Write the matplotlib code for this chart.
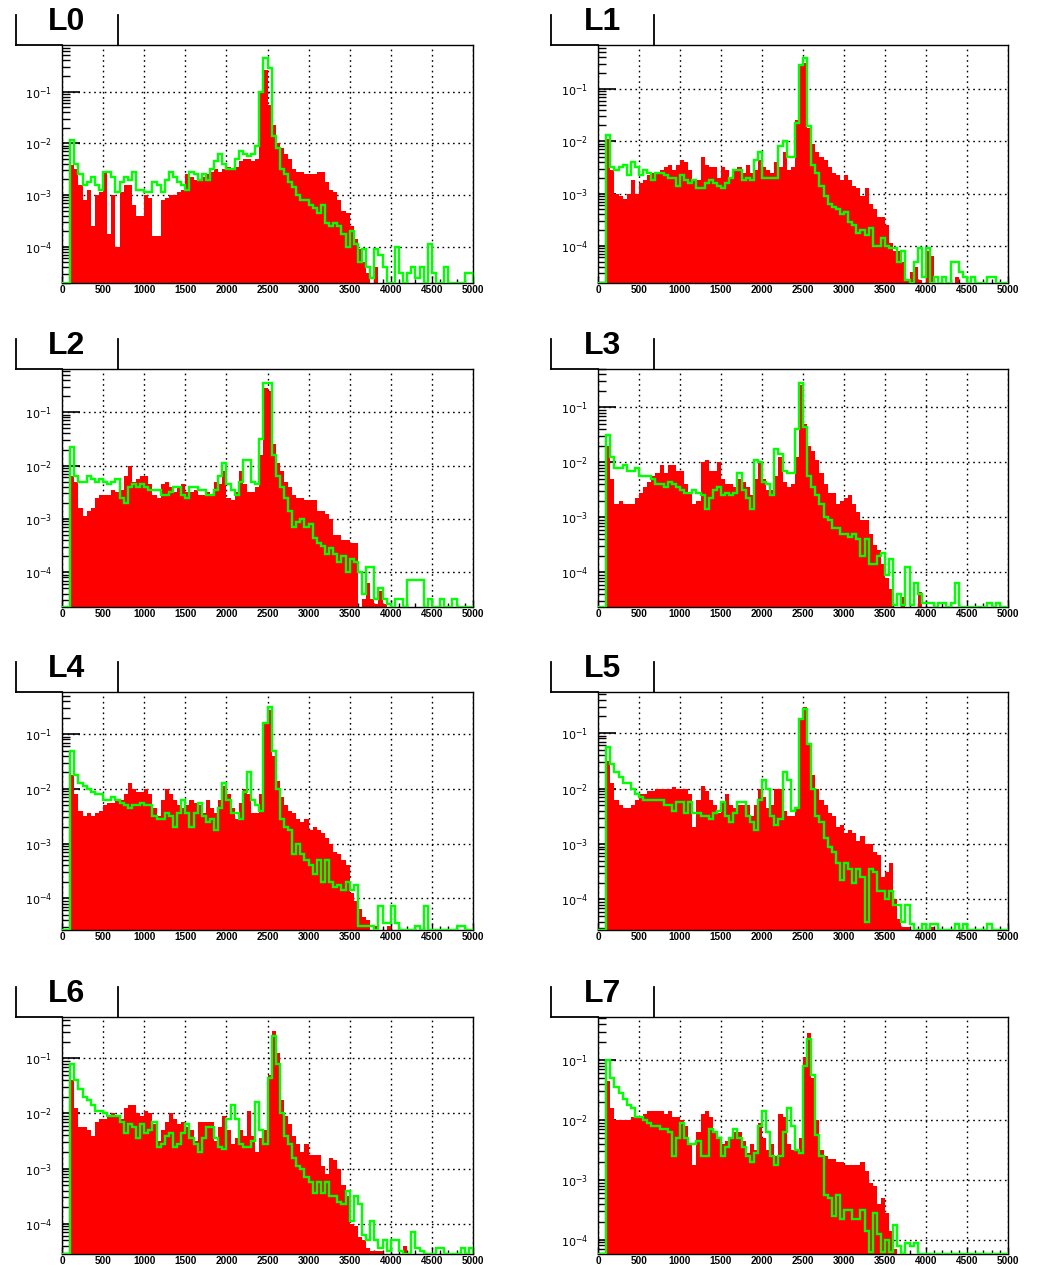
import numpy as np
import matplotlib
matplotlib.use("Agg")
import matplotlib.pyplot as plt
from matplotlib.ticker import FixedLocator, MultipleLocator, NullFormatter, LogLocator
from matplotlib.lines import Line2D

# ---------------- data (log10 of bin content, None = empty bin); bins of width 50 from 0 to 5000
bin_edges = np.arange(0, 5001, 50)
panel_names = ["L0", "L1", "L2", "L3", "L4", "L5", "L6", "L7"]
x_ticks = [0, 500, 1000, 1500, 2000, 2500, 3000, 3500, 4000, 4500, 5000]
y_decades = [-4, -3, -2, -1]

L0_red = [None, None, -2.42, -2.5, -2.8, -3.1, -2.9, -3.6, -3.0, -2.95,
          -2.55, -3.75, -3.0, -4.0, -2.95, -2.8, -2.8, -3.2, -3.4, -3.4,
          -3.0, -3.05, -3.8, -3.8, -3.1, -3.05, -3.0, -3.0, -2.95, -2.9,
          -2.6, -2.65, -2.7, -2.7, -2.65, -2.6, -2.55, -2.5, -2.55, -2.5,
          -2.45, -2.5, -2.45, -2.35, -2.3, -2.3, -2.35, -2.3, -1.0, -0.58,
          -1.25, -1.65, -2.0, -2.1, -2.2, -2.3, -2.5, -2.55, -2.55, -2.6,
          -2.6, -2.6, -2.55, -2.55, -2.75, -2.9, -2.95, -3.1, -3.3, -3.35,
          -3.6, -3.85, -4.05, -4.3, -4.5, None, -4.4]
L0_green = [None, None, -1.94, -2.4, -2.6, -2.8, -2.75, -2.65, -2.8, -2.9,
            -2.55, -2.55, -2.65, -2.95, -2.75, -2.65, -2.7, -2.55, -2.9, -2.9,
            -2.95, -2.95, -2.75, -2.8, -2.95, -2.7, -2.55, -2.65, -2.75, -2.8,
            -2.9, -2.55, -2.6, -2.7, -2.6, -2.7, -2.5, -2.35, -2.2, -2.4,
            -2.5, -2.5, -2.3, -2.15, -2.2, -2.25, -2.2, -2.05, -1.0, -0.35,
            -0.55, -1.85, -2.1, -2.5, -2.6, -2.75, -2.85, -3.0, -3.1, -3.1,
            -3.2, -3.25, -3.35, -3.2, -3.55, -3.6, -3.55, -3.6, -3.75, -4.0,
            -3.7, -3.95, -4.3, -4.05, -4.4, -4.6, -4.05, -4.15, -4.4, None,
            None, -4.0, -4.5, None, -4.5, -4.4, -4.6, -4.4, None, -3.95,
            -4.5, None, None, -4.4, None, None, None, None, -4.5, -4.5]

L1_red = [None, None, -1.95, -2.55, -3.0, -3.05, -3.1, -3.0, -2.75, -3.0,
          -2.8, -2.75, -2.65, -2.6, -2.6, -2.55, -2.5, -2.45, -2.55, -2.45,
          -2.35, -2.4, -2.55, -2.75, -2.75, -2.3, -2.45, -2.5, -2.5, -2.7,
          -2.5, -2.55, -2.7, -2.55, -2.5, -2.6, -2.45, -2.6, -2.55, -2.35,
          -2.5, -2.55, -2.6, -2.4, -2.5, -2.2, -2.55, -2.5, -1.6, -0.55,
          -0.5, -1.75, -2.05, -2.2, -2.3, -2.35, -2.5, -2.6, -2.65, -2.75,
          -2.65, -2.75, -2.85, -2.9, -3.05, -2.9, -3.2, -3.3, -3.45, -3.45,
          -3.6, -3.95, -4.1, -4.1, -4.3, -4.65, -4.5, -4.4, -4.65, None,
          -4.1, -4.2, None, None, None, None, None, -4.6]
L1_green = [None, None, -1.88, -2.5, -2.55, -2.5, -2.45, -2.65, -2.4, -2.5,
            -2.65, -2.55, -2.6, -2.75, -2.6, -2.6, -2.65, -2.7, -2.7, -2.85,
            -2.65, -2.75, -2.8, -2.75, -2.9, -2.9, -2.8, -2.75, -2.8, -2.85,
            -2.9, -2.8, -2.7, -2.55, -2.55, -2.75, -2.7, -2.75, -2.35, -2.2,
            -2.7, -2.7, -2.7, -2.7, -2.1, -2.0, -2.3, -2.3, -1.65, -0.55,
            -0.4, -1.7, -2.45, -2.6, -2.85, -3.05, -3.2, -3.25, -3.3, -3.4,
            -3.35, -3.55, -3.6, -3.75, -3.7, -3.8, -3.65, -4.0, -4.0, -3.85,
            -4.0, -4.05, -4.05, -4.3, -4.1, -4.65, None, -4.3, -4.05, -4.6,
            -4.05, None, -4.6, None, -4.6, None, -4.3, -4.3, -4.5, -4.6,
            None, -4.6, None, None, None, -4.6, -4.6]

L2_red = [None, None, -2.2, -2.3, -2.8, -2.95, -2.85, -2.8, -2.6, -2.55,
          -2.55, -2.55, -2.45, -2.5, -2.45, -2.2, -2.0, -2.3, -2.25, -2.2,
          -2.2, -2.35, -2.55, -2.6, -2.35, -2.3, -2.4, -2.5, -2.4, -2.35,
          -2.5, -2.5, -2.45, -2.55, -2.55, -2.5, -2.55, -2.3, -2.35, -2.1,
          -2.6, -2.65, -2.5, -2.1, -2.35, -2.5, -2.5, -2.4, -1.8, -0.55,
          -0.6, -1.6, -1.95, -2.1, -2.3, -2.4, -2.55, -2.6, -2.6, -2.65,
          -2.65, -2.65, -2.85, -2.85, -2.9, -3.0, -3.3, -3.3, -3.4, -3.4,
          -3.45, -3.45, None, -4.5, -4.2, -4.5, -4.6, -4.35, -4.6]
L2_green = [None, None, -1.65, -2.2, -2.3, -2.3, -2.2, -2.25, -2.3, -2.25,
            -2.3, -2.35, -2.3, -2.25, -2.6, -2.7, -2.4, -2.35, -2.4, -2.35,
            -2.4, -2.45, -2.45, -2.45, -2.55, -2.55, -2.5, -2.4, -2.4, -2.55,
            -2.6, -2.4, -2.4, -2.45, -2.45, -2.55, -2.55, -2.45, -2.2, -1.95,
            -2.35, -2.45, -2.55, -2.3, -1.9, -1.9, -2.3, -2.35, -1.5, -0.45,
            -0.45, -1.8, -2.2, -2.4, -2.6, -2.85, -3.15, -3.05, -3.0, -3.15,
            -3.1, -3.35, -3.45, -3.5, -3.65, -3.55, -3.65, -3.8, -3.7, -4.0,
            -3.75, -3.8, -4.0, -4.4, -3.9, -3.9, -4.5, -4.3, -4.5, -4.6,
            None, -4.5, -4.5, -4.65, -4.15, -4.15, -4.15, -4.15, None, -4.5,
            None, None, -4.5, None, None, -4.5]

L3_red = [None, None, -1.7, -2.3, -2.75, -2.7, -2.75, -2.75, -2.75, -2.65,
          -2.55, -2.45, -2.35, -2.25, -2.2, -2.05, -2.2, -2.05, -2.05, -2.15,
          -2.15, -2.4, -2.55, -2.75, -2.7, -2.0, -1.95, -2.15, -2.15, -2.0,
          -2.3, -2.4, -2.4, -2.45, -2.3, -2.35, -2.45, -2.6, -2.3, -2.0,
          -2.3, -2.5, -2.5, -2.25, -1.9, -2.35, -2.45, -2.4, -1.9, -0.6,
          -1.3, -1.7, -1.8, -1.95, -2.2, -2.4, -2.55, -2.55, -2.75, -2.7,
          -2.65, -2.6, -2.75, -2.9, -3.05, -3.05, -3.3, -3.5, -3.6, -3.85,
          -4.1, -4.3, None, None, -4.45, None, None, None, -4.35]
L3_green = [None, None, -1.5, -1.9, -2.1, -2.1, -2.05, -2.15, -2.15, -2.1,
            -2.25, -2.25, -2.25, -2.3, -2.4, -2.4, -2.45, -2.35, -2.4, -2.45,
            -2.5, -2.55, -2.55, -2.5, -2.55, -2.6, -2.85, -2.65, -2.5, -2.45,
            -2.6, -2.55, -2.6, -2.55, -2.2, -2.5, -2.65, -2.85, -1.95, -2.0,
            -2.35, -2.4, -2.6, -1.75, -1.85, -2.15, -2.2, -2.2, -1.4, -0.55,
            -1.35, -2.25, -2.45, -2.6, -2.75, -3.0, -3.05, -3.2, -3.2, -3.3,
            -3.3, -3.35, -3.3, -3.4, -3.7, -3.4, -3.85, -3.85, -3.7, -3.65,
            -4.05, -3.75, -4.6, -4.4, -4.6, -3.9, -4.6, -4.2, -4.4, -4.55,
            -4.55, -4.55, None, -4.55, -4.55, None, -4.55, -4.2, None, None,
            None, None, None, None, None, -4.55, None, -4.55]

L4_red = [None, None, -1.75, -2.1, -2.4, -2.5, -2.45, -2.5, -2.45, -2.4,
          -2.3, -2.25, -2.25, -2.2, -2.2, -2.1, -1.9, -2.0, -2.05, -2.05,
          -2.0, -2.1, -2.35, -2.5, -2.2, -2.0, -2.1, -2.2, -2.3, -2.35,
          -2.3, -2.2, -2.25, -2.3, -2.45, -2.2, -2.35, -2.45, -2.2, -1.95,
          -2.1, -2.35, -2.55, -2.25, -2.0, -2.1, -2.45, -2.45, -2.1, -0.8,
          -0.55, -1.4, -1.85, -2.15, -2.3, -2.4, -2.45, -2.55, -2.6, -2.55,
          -2.75, -2.7, -2.75, -2.8, -2.9, -3.0, -3.15, -3.2, -3.3, -3.4,
          -3.9, -4.05, -4.2, -4.35, -4.4, None, -4.5, None, None, -4.5]
L4_green = [None, None, -1.3, -1.75, -1.9, -1.95, -2.0, -2.05, -2.1, -2.1,
            -2.2, -2.2, -2.15, -2.2, -2.25, -2.3, -2.35, -2.3, -2.3, -2.25,
            -2.3, -2.3, -2.5, -2.55, -2.55, -2.45, -2.5, -2.7, -2.45, -2.2,
            -2.45, -2.7, -2.45, -2.25, -2.5, -2.6, -2.55, -2.75, -2.35, -1.9,
            -2.2, -2.45, -2.45, -2.55, -2.05, -1.7, -2.2, -2.3, -2.4, -0.8,
            -0.5, -1.3, -2.0, -2.55, -2.7, -2.75, -3.2, -3.0, -3.2, -3.3,
            -3.4, -3.55, -3.3, -3.7, -3.3, -3.7, -3.8, -3.75, -3.85, -3.7,
            -3.85, -3.75, -4.5, -4.5, -4.5, -4.5, None, -4.15, -4.45, -4.45,
            -4.15, -4.45, None, None, None, None, -4.5, None, -4.15, None,
            None, None, None, None, None, None, -4.5, -4.5]

L5_red = [None, None, -1.5, -1.9, -2.2, -2.3, -2.35, -2.35, -2.3, -2.2,
          -2.1, -2.1, -2.05, -2.05, -2.0, -2.0, -2.0, -2.0, -1.98, -2.0,
          -2.0, -2.0, -2.1, -2.7, -2.2, -1.95, -2.05, -2.2, -2.3, -2.45,
          -2.25, -2.1, -2.3, -2.35, -2.3, -2.3, -2.3, -2.5, -2.3, -2.0,
          -2.15, -2.35, -2.3, -2.0, -2.0, -2.4, -2.5, -2.5, -2.35, -0.75,
          -0.53, -1.2, -1.75, -2.0, -2.2, -2.3, -2.45, -2.5, -2.7, -2.65,
          -2.8, -2.75, -2.8, -2.95, -2.85, -3.0, -3.0, -3.15, -3.2, -3.6,
          -3.5, -3.35, -4.0, -4.35, -4.5, -4.5, None, None, None, None,
          None, -4.5]
L5_green = [None, None, -1.25, -1.55, -1.7, -1.8, -1.9, -1.9, -2.0, -2.1,
            -2.15, -2.2, -2.2, -2.2, -2.2, -2.2, -2.3, -2.3, -2.4, -2.25,
            -2.25, -2.45, -2.25, -2.45, -2.45, -2.5, -2.5, -2.55, -2.45, -2.4,
            -2.25, -2.5, -2.6, -2.45, -2.25, -2.25, -2.5, -2.6, -2.75, -2.2,
            -1.85, -2.0, -2.5, -2.65, -2.55, -1.7, -1.85, -2.4, -2.35, -0.75,
            -0.56, -1.2, -2.0, -2.5, -2.6, -2.9, -3.05, -3.15, -3.35, -3.65,
            -3.35, -3.45, -3.7, -3.45, -3.6, -4.4, -3.45, -3.5, -3.85, -3.85,
            -4.0, -3.85, -4.1, -4.1, -4.4, -4.1, -4.45, None, None, -4.45,
            None, -4.45, -4.45, None, None, None, None, -4.45, None, -4.45,
            None, None, None, None, None, -4.45]

L6_red = [None, None, -1.4, -1.9, -2.25, -2.25, -2.3, -2.4, -2.15, -2.1,
          -2.1, -2.05, -2.0, -2.05, -2.1, -1.9, -1.85, -1.85, -2.0, -2.05,
          -1.95, -2.0, -2.2, -2.5, -2.3, -2.15, -2.0, -2.1, -2.2, -2.15,
          -2.25, -2.3, -2.5, -2.15, -2.15, -2.15, -2.15, -2.5, -2.25, -2.05,
          -2.3, -2.55, -2.45, -2.3, -2.4, -1.95, -2.4, -2.7, -2.45, -2.3,
          -1.3, -0.5, -0.9, -1.75, -2.05, -2.2, -2.4, -2.55, -2.7, -2.55,
          -2.75, -2.75, -2.75, -2.95, -3.1, -2.8, -2.85, -3.0, -3.3, -3.5,
          -4.0, -4.05, -4.25, -4.3, -4.45, -4.5, -4.5, -4.5, None, None,
          None, None, None, -4.4]
L6_green = [None, None, -1.1, -1.4, -1.55, -1.7, -1.75, -1.85, -1.95, -1.95,
            -2.0, -2.05, -2.05, -2.05, -2.15, -2.35, -2.2, -2.25, -2.45, -2.2,
            -2.35, -2.3, -2.15, -2.6, -2.55, -2.4, -2.35, -2.6, -2.55, -2.35,
            -2.2, -2.45, -2.55, -2.7, -2.45, -2.25, -2.25, -2.45, -2.6, -2.65,
            -2.1, -1.85, -2.1, -2.55, -2.6, -2.6, -2.5, -1.8, -2.3, -2.55,
            -1.35, -0.6, -1.1, -2.0, -2.4, -2.55, -2.8, -2.95, -3.0, -3.15,
            -3.25, -3.45, -3.25, -3.45, -3.25, -3.5, -3.5, -3.6, -3.65, -3.4,
            -3.95, -3.5, -3.65, -4.2, -4.3, -3.95, -4.3, -4.45, -4.3, -4.5,
            -4.3, -4.3, -4.5, None, None, -4.15, -4.45, -4.5, None, None,
            None, -4.45, -4.45, None, None, None, None, -4.45, None, -4.45]

L7_red = [None, None, -1.35, -1.8, -2.0, -2.0, -2.0, -2.0, -1.95, -1.95,
          -1.95, -1.9, -1.85, -1.85, -1.85, -1.85, -1.9, -1.85, -1.95, -1.95,
          -2.0, -2.1, -2.4, -2.75, -2.2, -1.9, -1.85, -1.95, -2.2, -2.3,
          -2.4, -2.35, -2.3, -2.2, -2.2, -2.35, -2.55, -2.4, -2.5, -2.05,
          -2.3, -2.5, -2.4, -2.6, -1.9, -1.95, -2.4, -2.5, -2.5, -2.3,
          -0.95, -0.55, -1.3, -2.0, -2.5, -2.6, -2.65, -2.65, -2.7, -2.7,
          -2.75, -2.75, -2.75, -2.75, -2.7, -2.85, -3.05, -3.1, -3.4, -3.3,
          -3.55, -3.85, -4.15]
L7_green = [None, None, -1.0, -1.3, -1.45, -1.55, -1.65, -1.75, -1.8, -1.95,
            -1.95, -2.0, -2.05, -2.1, -2.1, -2.15, -2.15, -2.2, -2.6, -2.3,
            -2.05, -2.3, -2.4, -2.4, -2.35, -2.6, -2.6, -2.15, -2.2, -2.3,
            -2.6, -2.45, -2.3, -2.15, -2.3, -2.45, -2.6, -2.7, -2.55, -2.1,
            -1.85, -2.2, -2.6, -2.75, -2.6, -2.2, -1.8, -2.1, -2.5, -2.55,
            -1.1, -0.65, -1.25, -2.25, -2.6, -3.25, -3.3, -3.6, -3.25, -3.65,
            -3.5, -3.5, -3.65, -3.65, -3.5, -3.85, -4.2, -3.55, -3.9, -4.2,
            -4.0, -4.2, -3.75, -4.1, None, -4.05, -4.1, -4.05]

red_series = [L0_red, L1_red, L2_red, L3_red, L4_red, L5_red, L6_red, L7_red]
green_series = [L0_green, L1_green, L2_green, L3_green, L4_green, L5_green, L6_green, L7_green]

# y-axis ranges (log10) of each pad
y_ranges = [(-4.70, -0.10), (-4.71, -0.16), (-4.65, -0.19), (-4.63, -0.30),
            (-4.58, -0.23), (-4.55, -0.26), (-4.55, -0.25), (-4.24, -0.28)]


def contents(logs):
    logs = list(logs) + [None] * (len(bin_edges) - 1 - len(logs))
    return np.array([0.0 if v is None else 10.0 ** v for v in logs])


# ---------------- layout (pixels)
W, H = 1037, 1265
fig = plt.figure(figsize=(W / 100, H / 100), dpi=100)
col_x = [(62, 473), (598, 1008)]
row_y = [(45, 283), (369, 607), (692, 930), (1017, 1254)]
box_x = [(16, 118), (551, 654)]

RED = "#ff0000"
GREEN = "#00ff00"

for k, name in enumerate(panel_names):
    r, c = divmod(k, 2)
    x0, x1 = col_x[c]
    y0, y1 = row_y[r]
    ax = fig.add_axes([x0 / W, 1 - y1 / H, (x1 - x0) / W, (y1 - y0) / H])
    lo, hi = y_ranges[k]
    ymin, ymax = 10 ** lo, 10 ** hi
    red = contents(red_series[k])
    green = contents(green_series[k])

    ax.set_yscale("log")
    ax.set_xlim(0, 5000)
    ax.set_ylim(ymin, ymax)
    ax.set_axisbelow(True)
    ax.grid(True, which="major", color="black", linestyle=(0, (1.2, 2.6)), linewidth=1.0)

    ax.stairs(np.where(red > 0, red, 1e-12), bin_edges, baseline=1e-12, fill=True,
              color=RED, linewidth=0, zorder=2)
    ax.stairs(np.maximum(green, ymin), bin_edges, baseline=ymin, color=GREEN,
              linewidth=1.7, zorder=3)

    # ticks
    ax.xaxis.set_major_locator(FixedLocator(x_ticks))
    ax.xaxis.set_minor_locator(MultipleLocator(100))
    ax.set_xticklabels([str(t) for t in x_ticks])
    ax.yaxis.set_major_locator(FixedLocator([10.0 ** d for d in y_decades]))
    ax.yaxis.set_minor_locator(LogLocator(base=10, subs=np.arange(2, 10), numticks=20))
    ax.yaxis.set_minor_formatter(NullFormatter())
    ax.set_yticklabels([r"$10^{%d}$" % d for d in y_decades])
    ax.tick_params(axis="x", which="major", direction="in", length=5, width=1,
                   labelsize=7.2, pad=1.5)
    ax.tick_params(axis="x", which="minor", direction="in", length=3, width=1)
    ax.tick_params(axis="y", which="major", direction="in", length=13, width=1.2,
                   labelsize=8, pad=7)
    ax.tick_params(axis="y", which="minor", direction="in", length=6, width=1)
    for lab in ax.get_xticklabels():
        lab.set_fontfamily("Liberation Sans")
        lab.set_fontweight("bold")
    for sp in ax.spines.values():
        sp.set_linewidth(1.0)
        sp.set_color("black")

    # title pave
    bx0, bx1 = box_x[c]
    top = y0 - 30
    for (xa, ya, xb, yb) in [(bx0, top, bx0, y0), (bx1, top, bx1, y0), (bx0, y0, x0, y0)]:
        fig.add_artist(Line2D([xa / W, xb / W], [1 - ya / H, 1 - yb / H],
                              transform=fig.transFigure, color="black", linewidth=1.3))
    fig.text((bx0 + 51) / W, 1 - (y0 - 23) / H, name, ha="center", va="center",
             fontsize=23, fontweight="bold", family="Liberation Sans")

fig.savefig("out.png", dpi=100)
